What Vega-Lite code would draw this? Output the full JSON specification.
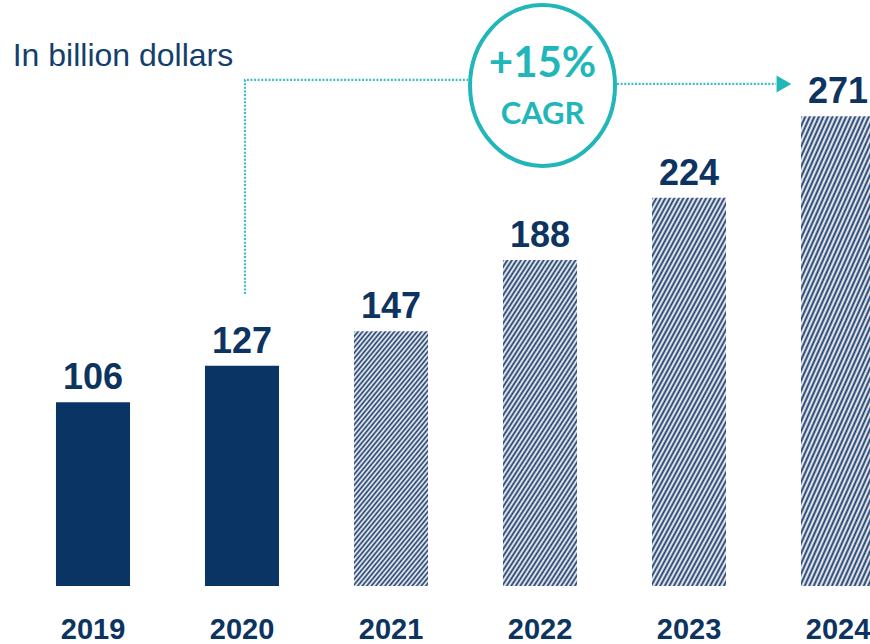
{
  "$schema": "https://vega.github.io/schema/vega-lite/v6.json",
  "width": 870,
  "height": 586,
  "autosize": {"type": "none"},
  "padding": {"left": 0, "top": 0, "right": 0, "bottom": 58},
  "background": "white",
  "config": {"view": {"stroke": null}},
  "datasets": {
    "bars": [
      {"year": "2019", "value": 106, "kind": "actual"},
      {"year": "2020", "value": 127, "kind": "actual"},
      {"year": "2021", "value": 147, "kind": "forecast"},
      {"year": "2022", "value": 188, "kind": "forecast"},
      {"year": "2023", "value": 224, "kind": "forecast"},
      {"year": "2024", "value": 271, "kind": "forecast"}
    ],
    "conn": [
      {"seg": "a", "o": 0, "xi": 1.02, "v": 168.4},
      {"seg": "a", "o": 1, "xi": 1.02, "v": 291.9},
      {"seg": "a", "o": 2, "xi": 2.517, "v": 291.9},
      {"seg": "b", "o": 0, "xi": 3.517, "v": 289.6},
      {"seg": "b", "o": 1, "xi": 4.584, "v": 289.6}
    ],
    "arrow": [{"xi": 4.637, "v": 289.6}],
    "ring": [{"xi": 3.017, "v": 288.7}],
    "big": [{"xi": 3.017, "v": 293.6, "t": "+15%"}],
    "small": [{"xi": 3.017, "v": 266.5, "t": "CAGR"}],
    "note": [{"xi": -0.539, "v": 299.9, "t": "In billion dollars"}]
  },
  "layer": [
    {
      "data": {"name": "bars"},
      "transform": [{"filter": "datum.kind == 'actual'"}],
      "mark": {"type": "bar", "color": "#0a3464"},
      "encoding": {
        "x": {"field": "year", "type": "ordinal", "scale": {"domain": ["2019", "2020", "2021", "2022", "2023", "2024"], "range": [18.5, 912.5], "paddingInner": 0.503, "paddingOuter": 0.2515},
          "axis": {"title": null, "domain": false, "ticks": false, "grid": false, "labelAngle": 0, "labelPadding": 52, "labelBaseline": "alphabetic", "labelFont": "Liberation Sans", "labelFontSize": 29, "labelFontWeight": "bold", "labelColor": "#0d3461", "labelOverlap": false}},
        "y": {"field": "value", "type": "quantitative", "scale": {"domain": [0, 338], "nice": false, "zero": true}, "axis": null}
      }
    },
    {
      "data": {"name": "bars"},
      "transform": [{"filter": "datum.kind == 'forecast'"}],
      "mark": {"type": "bar", "fill": {"gradient": "linear", "x1": 0, "y1": 0, "x2": 0.425, "y2": 1.203, "stops": [
        {"offset": 0, "color": "#17386a"},{"offset": 0.008, "color": "#fff"},{"offset": 0.016, "color": "#17386a"},{"offset": 0.024, "color": "#fff"},{"offset": 0.032, "color": "#17386a"},{"offset": 0.04, "color": "#fff"},{"offset": 0.048, "color": "#17386a"},{"offset": 0.056, "color": "#fff"},{"offset": 0.064, "color": "#17386a"},{"offset": 0.072, "color": "#fff"},
        {"offset": 0.08, "color": "#17386a"},{"offset": 0.088, "color": "#fff"},{"offset": 0.096, "color": "#17386a"},{"offset": 0.104, "color": "#fff"},{"offset": 0.112, "color": "#17386a"},{"offset": 0.12, "color": "#fff"},{"offset": 0.128, "color": "#17386a"},{"offset": 0.136, "color": "#fff"},{"offset": 0.144, "color": "#17386a"},{"offset": 0.152, "color": "#fff"},
        {"offset": 0.16, "color": "#17386a"},{"offset": 0.168, "color": "#fff"},{"offset": 0.176, "color": "#17386a"},{"offset": 0.184, "color": "#fff"},{"offset": 0.192, "color": "#17386a"},{"offset": 0.2, "color": "#fff"},{"offset": 0.208, "color": "#17386a"},{"offset": 0.216, "color": "#fff"},{"offset": 0.224, "color": "#17386a"},{"offset": 0.232, "color": "#fff"},
        {"offset": 0.24, "color": "#17386a"},{"offset": 0.248, "color": "#fff"},{"offset": 0.256, "color": "#17386a"},{"offset": 0.264, "color": "#fff"},{"offset": 0.272, "color": "#17386a"},{"offset": 0.28, "color": "#fff"},{"offset": 0.288, "color": "#17386a"},{"offset": 0.296, "color": "#fff"},{"offset": 0.304, "color": "#17386a"},{"offset": 0.312, "color": "#fff"},
        {"offset": 0.32, "color": "#17386a"},{"offset": 0.328, "color": "#fff"},{"offset": 0.336, "color": "#17386a"},{"offset": 0.344, "color": "#fff"},{"offset": 0.352, "color": "#17386a"},{"offset": 0.36, "color": "#fff"},{"offset": 0.368, "color": "#17386a"},{"offset": 0.376, "color": "#fff"},{"offset": 0.384, "color": "#17386a"},{"offset": 0.392, "color": "#fff"},
        {"offset": 0.4, "color": "#17386a"},{"offset": 0.408, "color": "#fff"},{"offset": 0.416, "color": "#17386a"},{"offset": 0.424, "color": "#fff"},{"offset": 0.432, "color": "#17386a"},{"offset": 0.44, "color": "#fff"},{"offset": 0.448, "color": "#17386a"},{"offset": 0.456, "color": "#fff"},{"offset": 0.464, "color": "#17386a"},{"offset": 0.472, "color": "#fff"},
        {"offset": 0.48, "color": "#17386a"},{"offset": 0.488, "color": "#fff"},{"offset": 0.496, "color": "#17386a"},{"offset": 0.504, "color": "#fff"},{"offset": 0.512, "color": "#17386a"},{"offset": 0.52, "color": "#fff"},{"offset": 0.528, "color": "#17386a"},{"offset": 0.536, "color": "#fff"},{"offset": 0.544, "color": "#17386a"},{"offset": 0.552, "color": "#fff"},
        {"offset": 0.56, "color": "#17386a"},{"offset": 0.568, "color": "#fff"},{"offset": 0.576, "color": "#17386a"},{"offset": 0.584, "color": "#fff"},{"offset": 0.592, "color": "#17386a"},{"offset": 0.6, "color": "#fff"},{"offset": 0.608, "color": "#17386a"},{"offset": 0.616, "color": "#fff"},{"offset": 0.624, "color": "#17386a"},{"offset": 0.632, "color": "#fff"},
        {"offset": 0.64, "color": "#17386a"},{"offset": 0.648, "color": "#fff"},{"offset": 0.656, "color": "#17386a"},{"offset": 0.664, "color": "#fff"},{"offset": 0.672, "color": "#17386a"},{"offset": 0.68, "color": "#fff"},{"offset": 0.688, "color": "#17386a"},{"offset": 0.696, "color": "#fff"},{"offset": 0.704, "color": "#17386a"},{"offset": 0.712, "color": "#fff"},
        {"offset": 0.72, "color": "#17386a"},{"offset": 0.728, "color": "#fff"},{"offset": 0.736, "color": "#17386a"},{"offset": 0.744, "color": "#fff"},{"offset": 0.752, "color": "#17386a"},{"offset": 0.76, "color": "#fff"},{"offset": 0.768, "color": "#17386a"},{"offset": 0.776, "color": "#fff"},{"offset": 0.784, "color": "#17386a"},{"offset": 0.792, "color": "#fff"},
        {"offset": 0.8, "color": "#17386a"},{"offset": 0.808, "color": "#fff"},{"offset": 0.816, "color": "#17386a"},{"offset": 0.824, "color": "#fff"},{"offset": 0.832, "color": "#17386a"},{"offset": 0.84, "color": "#fff"},{"offset": 0.848, "color": "#17386a"},{"offset": 0.856, "color": "#fff"},{"offset": 0.864, "color": "#17386a"},{"offset": 0.872, "color": "#fff"},
        {"offset": 0.88, "color": "#17386a"},{"offset": 0.888, "color": "#fff"},{"offset": 0.896, "color": "#17386a"},{"offset": 0.904, "color": "#fff"},{"offset": 0.912, "color": "#17386a"},{"offset": 0.92, "color": "#fff"},{"offset": 0.928, "color": "#17386a"},{"offset": 0.936, "color": "#fff"},{"offset": 0.944, "color": "#17386a"},{"offset": 0.952, "color": "#fff"},
        {"offset": 0.96, "color": "#17386a"},{"offset": 0.968, "color": "#fff"},{"offset": 0.976, "color": "#17386a"},{"offset": 0.984, "color": "#fff"},{"offset": 0.992, "color": "#17386a"},{"offset": 1, "color": "#fff"}
      ]}},
      "encoding": {
        "x": {"field": "year", "type": "ordinal", "scale": {"domain": ["2019", "2020", "2021", "2022", "2023", "2024"], "range": [18.5, 912.5], "paddingInner": 0.503, "paddingOuter": 0.2515}, "axis": null},
        "y": {"field": "value", "type": "quantitative", "scale": {"domain": [0, 338], "nice": false, "zero": true}, "axis": null}
      }
    },
    {
      "data": {"name": "bars"},
      "mark": {"type": "text", "baseline": "alphabetic", "align": "center", "dy": -13, "font": "Liberation Sans", "fontSize": 36, "fontWeight": "bold", "color": "#0d3461"},
      "encoding": {
        "x": {"field": "year", "type": "ordinal", "scale": {"domain": ["2019", "2020", "2021", "2022", "2023", "2024"], "range": [18.5, 912.5], "paddingInner": 0.503, "paddingOuter": 0.2515}, "axis": null},
        "y": {"field": "value", "type": "quantitative", "scale": {"domain": [0, 338], "nice": false, "zero": true}, "axis": null},
        "text": {"field": "value", "type": "quantitative"}
      }
    },
    {
      "data": {"name": "conn"},
      "mark": {"type": "line", "color": "#3cbfc1", "strokeWidth": 2.2, "strokeDash": [2, 1.6], "interpolate": "linear"},
      "encoding": {
        "x": {"field": "xi", "type": "quantitative", "scale": {"domain": [-0.5, 5.5], "range": [18.5, 912.5], "nice": false, "zero": false}, "axis": null},
        "y": {"field": "v", "type": "quantitative", "scale": {"domain": [0, 338], "nice": false, "zero": true}, "axis": null},
        "detail": {"field": "seg"},
        "order": {"field": "o"}
      }
    },
    {
      "data": {"name": "arrow"},
      "mark": {"type": "point", "shape": "triangle-right", "size": 290, "filled": true, "color": "#21b6b9", "opacity": 1},
      "encoding": {
        "x": {"field": "xi", "type": "quantitative", "scale": {"domain": [-0.5, 5.5], "range": [18.5, 912.5], "nice": false, "zero": false}, "axis": null},
        "y": {"field": "v", "type": "quantitative", "scale": {"domain": [0, 338], "nice": false, "zero": true}, "axis": null}
      }
    },
    {
      "data": {"name": "ring"},
      "mark": {"type": "point", "shape": "M-1,0A1,1.11,0,1,1,1,0A1,1.11,0,1,1,-1,0Z", "size": 21025, "filled": false, "fill": "white", "fillOpacity": 1, "stroke": "#21b6b9", "strokeWidth": 4, "opacity": 1},
      "encoding": {
        "x": {"field": "xi", "type": "quantitative", "scale": {"domain": [-0.5, 5.5], "range": [18.5, 912.5], "nice": false, "zero": false}, "axis": null},
        "y": {"field": "v", "type": "quantitative", "scale": {"domain": [0, 338], "nice": false, "zero": true}, "axis": null}
      }
    },
    {
      "data": {"name": "big"},
      "mark": {"type": "text", "baseline": "alphabetic", "align": "center", "font": "Lato", "fontSize": 42, "fontWeight": "bold", "color": "#21b6b9"},
      "encoding": {
        "x": {"field": "xi", "type": "quantitative", "scale": {"domain": [-0.5, 5.5], "range": [18.5, 912.5], "nice": false, "zero": false}, "axis": null},
        "y": {"field": "v", "type": "quantitative", "scale": {"domain": [0, 338], "nice": false, "zero": true}, "axis": null},
        "text": {"field": "t"}
      }
    },
    {
      "data": {"name": "small"},
      "mark": {"type": "text", "baseline": "alphabetic", "align": "center", "font": "Lato", "fontSize": 31, "fontWeight": "bold", "color": "#21b6b9"},
      "encoding": {
        "x": {"field": "xi", "type": "quantitative", "scale": {"domain": [-0.5, 5.5], "range": [18.5, 912.5], "nice": false, "zero": false}, "axis": null},
        "y": {"field": "v", "type": "quantitative", "scale": {"domain": [0, 338], "nice": false, "zero": true}, "axis": null},
        "text": {"field": "t"}
      }
    },
    {
      "data": {"name": "note"},
      "mark": {"type": "text", "baseline": "alphabetic", "align": "left", "font": "Liberation Sans", "fontSize": 32, "fontWeight": "normal", "color": "#143e6d"},
      "encoding": {
        "x": {"field": "xi", "type": "quantitative", "scale": {"domain": [-0.5, 5.5], "range": [18.5, 912.5], "nice": false, "zero": false}, "axis": null},
        "y": {"field": "v", "type": "quantitative", "scale": {"domain": [0, 338], "nice": false, "zero": true}, "axis": null},
        "text": {"field": "t"}
      }
    }
  ],
  "resolve": {"scale": {"x": "independent"}}
}
